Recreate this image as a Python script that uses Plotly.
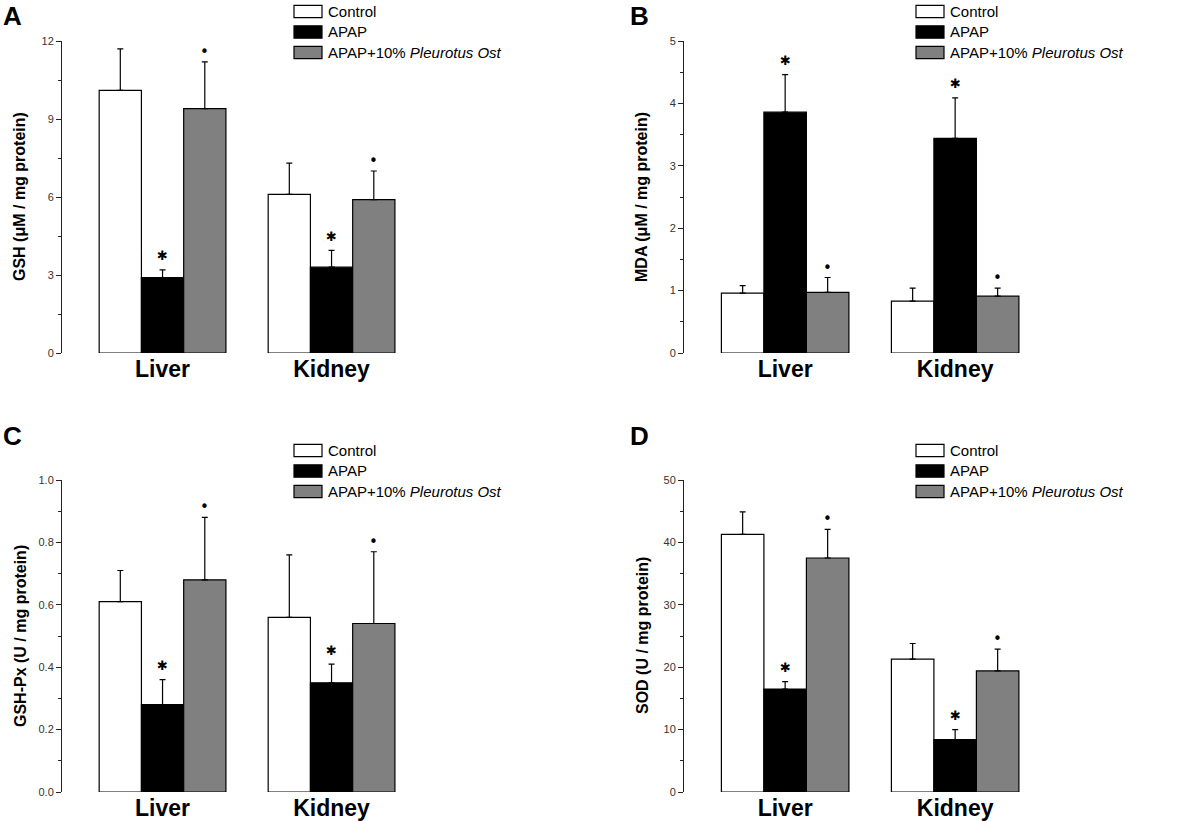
import plotly.graph_objects as go

# ------------------------- DATA -------------------------
organs = ["Liver", "Kidney"]
groups = ["Control", "APAP", "APAP+10% <i>Pleurotus Ost</i>"]
fills = ["white", "black", "#808080"]

gsh_control = [10.1, 6.1]
gsh_control_sd = [1.6, 1.2]
gsh_apap = [2.9, 3.3]
gsh_apap_sd = [0.3, 0.65]
gsh_pleu = [9.4, 5.9]
gsh_pleu_sd = [1.8, 1.1]

mda_control = [0.96, 0.83]
mda_control_sd = [0.12, 0.21]
mda_apap = [3.86, 3.44]
mda_apap_sd = [0.60, 0.65]
mda_pleu = [0.97, 0.91]
mda_pleu_sd = [0.24, 0.13]

gpx_control = [0.61, 0.56]
gpx_control_sd = [0.10, 0.20]
gpx_apap = [0.28, 0.35]
gpx_apap_sd = [0.08, 0.06]
gpx_pleu = [0.68, 0.54]
gpx_pleu_sd = [0.20, 0.23]

sod_control = [41.3, 21.3]
sod_control_sd = [3.6, 2.5]
sod_apap = [16.5, 8.4]
sod_apap_sd = [1.2, 1.6]
sod_pleu = [37.5, 19.4]
sod_pleu_sd = [4.6, 3.5]

W, H = 1200, 821
FONT = "Arial, Liberation Sans, sans-serif"
BARGAP = 0.25

# panel layout in window pixels: axis left, px per category, y of top tick / zero, legend / letter pos
panels = [
    dict(letter="A", title="GSH (μM / mg protein)",
         means=[gsh_control, gsh_apap, gsh_pleu], sds=[gsh_control_sd, gsh_apap_sd, gsh_pleu_sd],
         top=12, dtick=3, left=62, unit=169, ytop=41, yzero=353,
         leg_x=294, leg_y=11.5, let_x=12, let_y=16),
    dict(letter="B", title="MDA (μM / mg protein)",
         means=[mda_control, mda_apap, mda_pleu], sds=[mda_control_sd, mda_apap_sd, mda_pleu_sd],
         top=5, dtick=1, left=684, unit=170, ytop=41, yzero=353,
         leg_x=916, leg_y=11.5, let_x=639, let_y=16),
    dict(letter="C", title="GSH-Px (U / mg protein)",
         means=[gpx_control, gpx_apap, gpx_pleu], sds=[gpx_control_sd, gpx_apap_sd, gpx_pleu_sd],
         top=1.0, dtick=0.2, left=62, unit=169, ytop=480, yzero=792,
         leg_x=294, leg_y=450.5, let_x=12, let_y=436),
    dict(letter="D", title="SOD (U / mg protein)",
         means=[sod_control, sod_apap, sod_pleu], sds=[sod_control_sd, sod_apap_sd, sod_pleu_sd],
         top=50, dtick=10, left=684, unit=170, ytop=480, yzero=792,
         leg_x=916, leg_y=450.5, let_x=639, let_y=436),
]


def px(x):
    return x / W


def py(y):
    return 1 - y / H


fig = go.Figure()
layout = {}
annotations = []
shapes = []
bar_w = (1 - BARGAP) / 3

for k, p in enumerate(panels):
    n = "" if k == 0 else str(k + 1)
    xa, ya = "x" + n, "y" + n
    x_lo = -0.595
    x_hi = 1.55
    x0 = px(p["left"])
    x1 = px(p["left"] + (x_hi - x_lo) * p["unit"])
    y0 = py(p["yzero"])
    y1 = py(p["ytop"])

    for i, g in enumerate(groups):
        fig.add_trace(go.Bar(
            x=[0, 1], y=p["means"][i], name=g, showlegend=False,
            marker=dict(color=fills[i], line=dict(color="black", width=1.2)),
            error_y=dict(type="data", array=p["sds"][i], arrayminus=[0, 0], symmetric=False,
                         color="black", thickness=1.2, width=3),
            xaxis=xa, yaxis=ya,
        ))

    # significance marks above APAP (star) and Pleurotus (dot), placed above the error caps
    for i, sym, size, shift in [(1, "✱", 13, 14), (2, "•", 15, 10)]:
        for j in range(2):
            annotations.append(dict(
                x=j + (i - 1) * bar_w, y=p["means"][i][j] + p["sds"][i][j],
                xref=xa, yref=ya, text=sym, showarrow=False, yshift=shift,
                xanchor="center", yanchor="middle",
                font=dict(size=size, color="black", family="DejaVu Sans"),
            ))

    layout["xaxis" + n] = dict(
        domain=[x0, x1], range=[x_lo, x_hi], anchor=ya, automargin=False,
        tickvals=[0, 1], ticktext=organs, showline=False, ticks="", showgrid=False,
        zeroline=False, tickfont=dict(size=23, family=FONT, color="black", weight="bold"),
    )
    layout["yaxis" + n] = dict(
        domain=[y0, y1], range=[0, p["top"]], anchor=xa, automargin=False,
        dtick=p["dtick"], tick0=0, showline=True, linecolor="#222", linewidth=1,
        ticks="outside", ticklen=5, tickcolor="#222", tickwidth=1,
        minor=dict(dtick=p["dtick"] / 2, ticks="outside", ticklen=3, tickcolor="#222"),
        showgrid=False, zeroline=False,
        tickformat=".1f" if p["dtick"] < 1 else "d",
        tickfont=dict(size=11, family=FONT, color="#333"),
    )

    # panel letter
    annotations.append(dict(
        text="<b>%s</b>" % p["letter"], x=px(p["let_x"]), y=py(p["let_y"]),
        xref="paper", yref="paper", xanchor="center", yanchor="middle", showarrow=False,
        font=dict(size=26, family=FONT, color="black"),
    ))
    # y title
    annotations.append(dict(
        text="<b>%s</b>" % p["title"], x=px(p["left"] - 42), y=(y0 + y1) / 2,
        xref="paper", yref="paper", xanchor="center", yanchor="middle",
        textangle=-90, showarrow=False,
        font=dict(size=16, family=FONT, color="black"),
    ))
    # legend
    for i, g in enumerate(groups):
        cy = p["leg_y"] + i * 20.5
        shapes.append(dict(
            type="rect", xref="paper", yref="paper",
            x0=px(p["leg_x"]), x1=px(p["leg_x"] + 28),
            y0=py(cy + 6.2), y1=py(cy - 6.2),
            fillcolor=fills[i], line=dict(color="black", width=1.2),
        ))
        annotations.append(dict(
            text=g, x=px(p["leg_x"] + 32), y=py(cy), xref="paper", yref="paper",
            xanchor="left", yanchor="middle", showarrow=False,
            font=dict(size=15, family=FONT, color="black"),
        ))

fig.update_layout(
    width=W, height=H,
    margin=dict(l=0, r=0, t=0, b=0),
    paper_bgcolor="white", plot_bgcolor="white",
    barmode="group", bargap=BARGAP, bargroupgap=0,
    annotations=annotations, shapes=shapes,
    **layout,
)

# drop the default 8px page margin so the figure fills the window exactly; no modebar
fig.write_html("out.html", config={"displayModeBar": False},
               post_script="document.body.style.margin = '0';")
